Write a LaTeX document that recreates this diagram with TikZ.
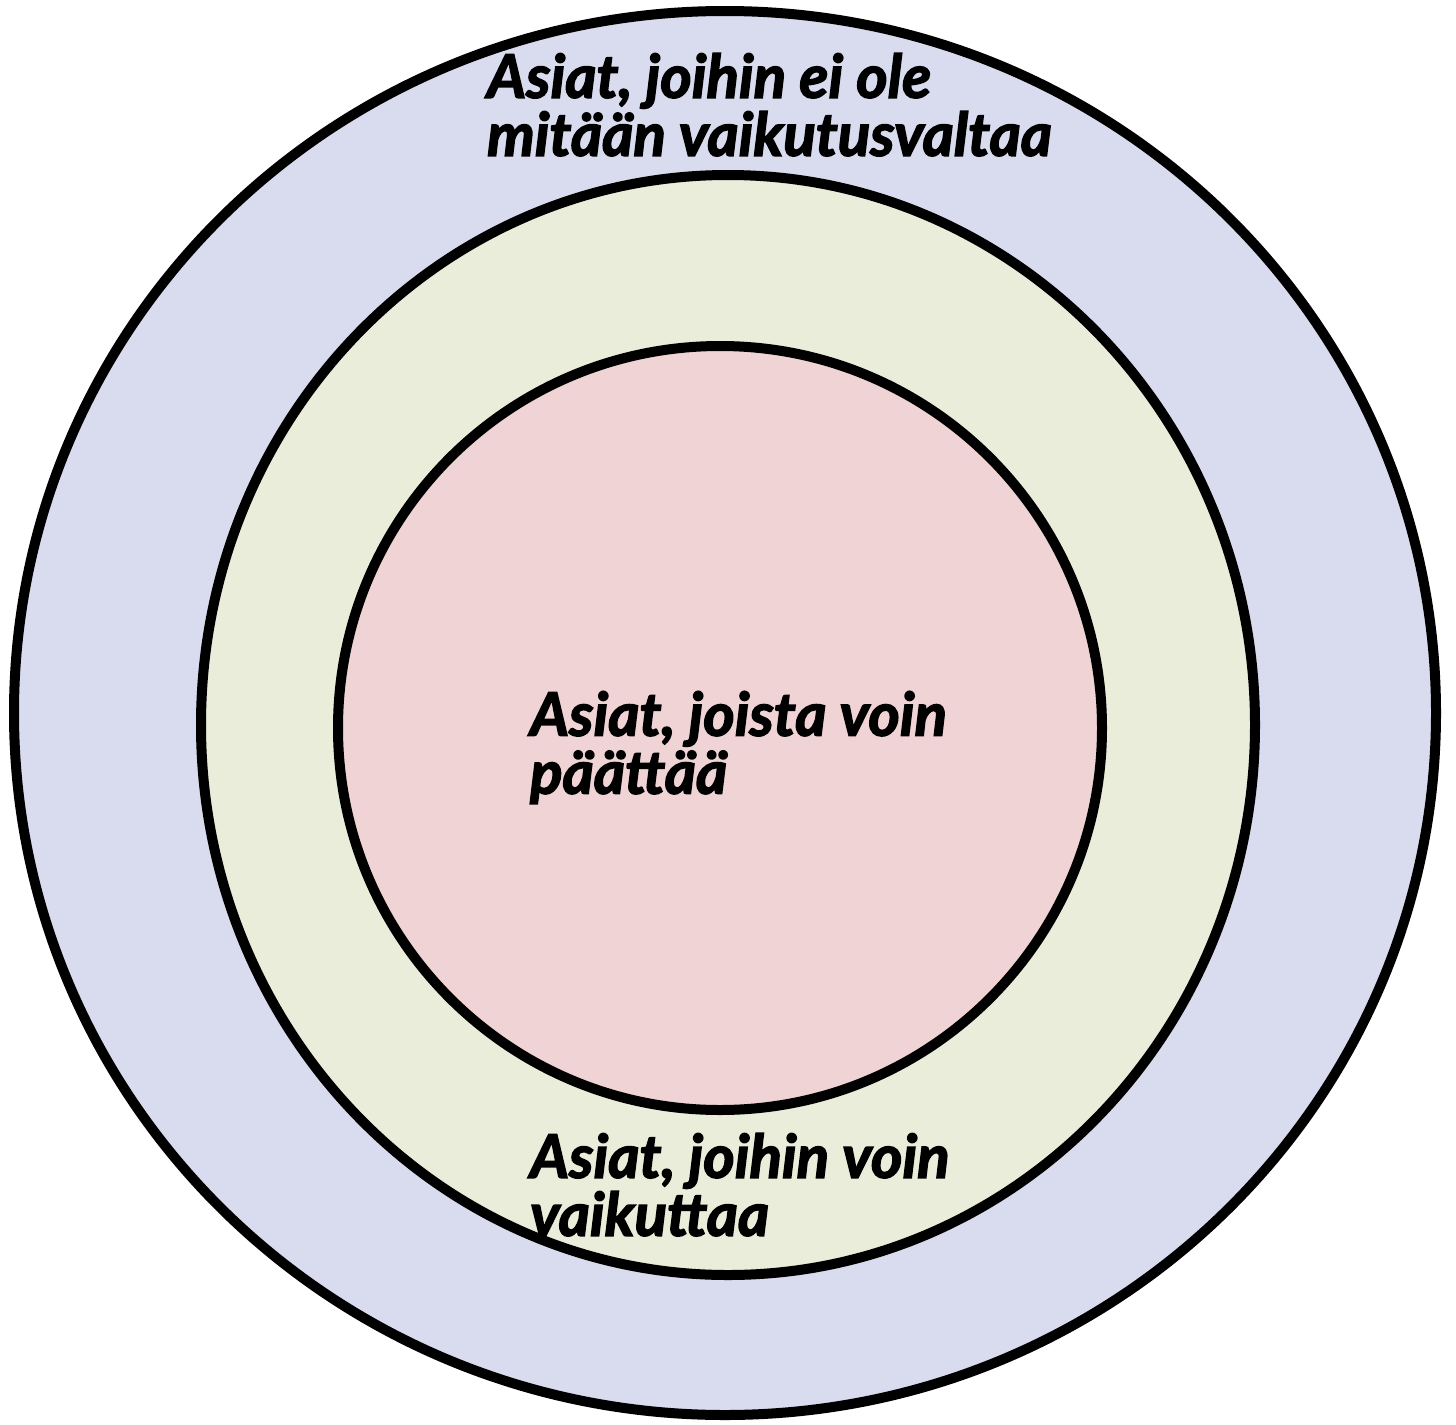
\documentclass[tikz,border=0pt]{standalone}
\usepackage{fontspec}
\setmainfont{Lato}[BoldItalicFeatures={FakeBold=2.5}]
\begin{document}
\begin{tikzpicture}[x=1pt,y=-1pt,
  ring/.style={draw=black,line width=10pt},
  lbl/.style={anchor=north west,align=left,inner sep=0pt,
    font=\fontsize{60}{58}\selectfont\bfseries\itshape}]
\useasboundingbox (0,0) rectangle (1456,1424);
\fill[white] (0,0) rectangle (1456,1424);
\path[ring,fill={rgb,255:red,217;green,220;blue,238}] (725,713) ellipse [x radius=711,y radius=702];
\path[ring,fill={rgb,255:red,233;green,237;blue,217}] (728,725) ellipse [x radius=527,y radius=550];
\path[ring,fill={rgb,255:red,239;green,211;blue,213}] (720,728) ellipse [x radius=382,y radius=382];
\node[lbl] (outer) at (487,53) {Asiat, joihin ei ole\\mitään vaikutusvaltaa};
\node[lbl] (inner) at (530,691) {Asiat, joista voin\\päättää};
\node[lbl] (middle) at (530,1133) {Asiat, joihin voin\\vaikuttaa};
\end{tikzpicture}
\end{document}
